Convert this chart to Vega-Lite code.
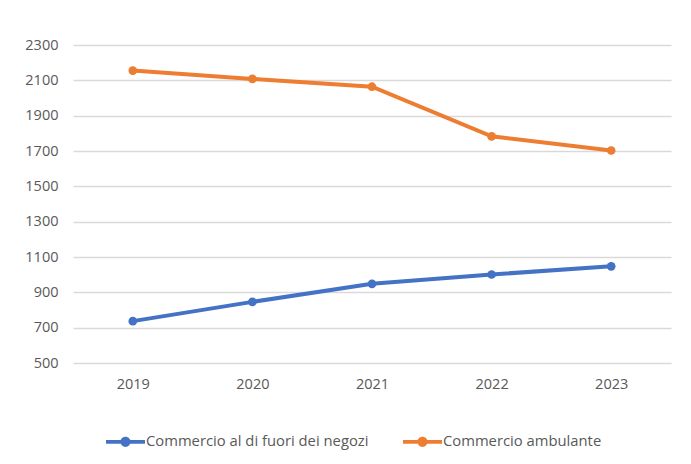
{
  "$schema": "https://vega.github.io/schema/vega-lite/v6.json",
  "width": 598,
  "height": 318,
  "autosize": "none",
  "padding": {"left": 73, "top": 45, "right": 20, "bottom": 101},
  "background": "white",
  "config": {
    "view": {"stroke": null},
    "font": "Open Sans"
  },
  "data": {
    "values": [
      {"anno": "2019", "serie": "Commercio al di fuori dei negozi", "valore": 737},
      {"anno": "2020", "serie": "Commercio al di fuori dei negozi", "valore": 846},
      {"anno": "2021", "serie": "Commercio al di fuori dei negozi", "valore": 948},
      {"anno": "2022", "serie": "Commercio al di fuori dei negozi", "valore": 1001},
      {"anno": "2023", "serie": "Commercio al di fuori dei negozi", "valore": 1047},
      {"anno": "2019", "serie": "Commercio ambulante", "valore": 2155},
      {"anno": "2020", "serie": "Commercio ambulante", "valore": 2108},
      {"anno": "2021", "serie": "Commercio ambulante", "valore": 2064},
      {"anno": "2022", "serie": "Commercio ambulante", "valore": 1783},
      {"anno": "2023", "serie": "Commercio ambulante", "valore": 1703}
    ]
  },
  "encoding": {
    "x": {
      "field": "anno", "type": "ordinal",
      "scale": {"type": "point", "padding": 0.5},
      "axis": {"title": null, "labelAngle": 0, "domain": false, "ticks": false, "grid": false,
               "labelPadding": 14, "labelFontSize": 14.5, "labelColor": "#595959", "labelFont": "Open Sans"}
    },
    "y": {
      "field": "valore", "type": "quantitative",
      "scale": {"domain": [500, 2300], "nice": false, "zero": false},
      "axis": {"title": null, "values": [500, 700, 900, 1100, 1300, 1500, 1700, 1900, 2100, 2300], "format": "d",
               "domain": false, "ticks": false, "gridColor": "#d9d9d9", "gridWidth": 1.3,
               "labelPadding": 15, "labelFontSize": 14.5, "labelColor": "#595959", "labelFont": "Open Sans"}
    },
    "color": {
      "field": "serie", "type": "nominal",
      "scale": {"domain": ["Commercio al di fuori dei negozi", "Commercio ambulante"], "range": ["#4472C4", "#ED7D31"]},
      "legend": {
        "title": null, "orient": "none", "direction": "horizontal",
        "legendX": 33, "legendY": 377, "padding": 0,
        "symbolType": "M-1,-0.1L1,-0.1L1,0.1L-1,0.1Z M0.26,0A0.26,0.26,0,1,1,-0.26,0A0.26,0.26,0,1,1,0.26,0Z",
        "symbolSize": 1521, "symbolStrokeWidth": 0, "symbolOpacity": 1,
        "labelFont": "Open Sans", "labelFontSize": 14.8, "labelColor": "#595959", "labelLimit": 0,
        "labelOffset": 1, "columnPadding": 34
      }
    }
  },
  "layer": [
    {
      "mark": {"type": "line", "strokeWidth": 4}
    },
    {
      "mark": {"type": "point", "filled": true, "size": 75, "opacity": 1}
    }
  ]
}
